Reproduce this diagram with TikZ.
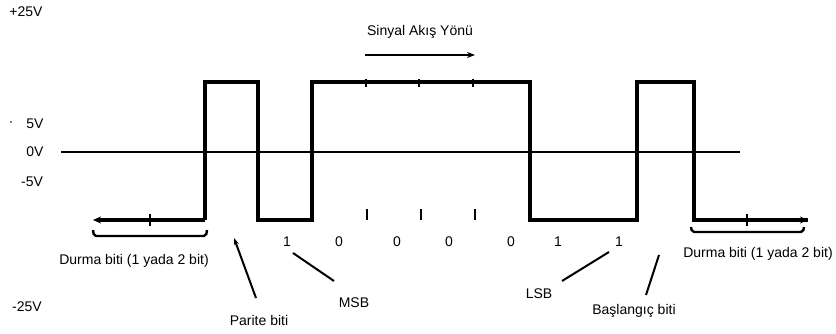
\documentclass[tikz,border=0pt]{standalone}
\usepackage{fontspec}
\setmainfont{Liberation Sans}
\usetikzlibrary{arrows.meta}
\begin{document}
\begin{tikzpicture}[x=1pt,y=-1pt,
  lbl/.style={font=\fontsize{14}{16}\selectfont,inner sep=0pt},
  wave/.style={line width=3.4pt,line join=miter},
  axis/.style={line width=2.2pt},
  ptr/.style={line width=2pt},
  brk/.style={line width=2.4pt,rounded corners=2pt},
  tck/.style={line width=1.6pt}]
\useasboundingbox (0,0) rectangle (836,334);
% voltage labels
\node[lbl] (v25) at (26,12) {+25V};
\node[lbl] (v5) at (35,124) {5V};
\node[lbl] (v0) at (35,152) {0V};
\node[lbl] (vm5) at (32,182) {-5V};
\node[lbl] (vm25) at (27,307) {-25V};
\fill (11,122) circle (0.8pt);
% axis
\coordinate (a0) at (61,152);
\coordinate (a1) at (740,152);
\draw[axis] (a0) -- (a1);
% waveform
\coordinate (w0) at (93,220);
\coordinate (w1) at (205,220);
\coordinate (w2) at (205,82);
\coordinate (w3) at (258,82);
\coordinate (w4) at (258,220);
\coordinate (w5) at (312,220);
\coordinate (w6) at (312,82);
\coordinate (w7) at (530,82);
\coordinate (w8) at (530,220);
\coordinate (w9) at (637,220);
\coordinate (w10) at (637,82);
\coordinate (w11) at (694,82);
\coordinate (w12) at (694,220);
\coordinate (w13) at (808,220);
\draw[wave,{Stealth[length=8pt,width=7pt]}-] (w0) -- (w1);
\draw[wave] (w1) -- (w2) -- (w3) -- (w4) -- (w5) -- (w6) -- (w7) -- (w8) -- (w9) -- (w10) -- (w11) -- (w12) -- (w13);
\draw[wave,-{Stealth[length=8pt,width=7pt]}] (w12) -- (w13);
% ticks on waveform
\foreach \x in {150,747} \draw[tck] (\x,214) -- (\x,226);
\foreach \x in {366,419,473} \draw[line width=1.2pt] (\x,79) -- (\x,87);
\foreach \x in {367,421,475} \draw[tck] (\x,209) -- (\x,220);
% signal direction
\node[lbl] (sig) at (420,32) {Sinyal Akış Yönü};
\coordinate (s0) at (365,55);
\coordinate (s1) at (475,55);
\draw[line width=2.6pt,-{Stealth[length=8pt,width=6pt]}] (s0) -- (s1);
% brackets
\draw[brk] (93,230) -- (94,236) -- (206,236) -- (207,230);
\draw[brk] (691,227) -- (692,232) -- (803,232) -- (804,227);
\node[lbl] (dl) at (134,261) {Durma biti (1 yada 2 bit)};
\node[lbl] (dr) at (758,254) {Durma biti (1 yada 2 bit)};
% bit values
\foreach \x/\b [count=\i] in {287/1,339/0,397/0,449/0,511/0,558/1,619/1}
  \node[lbl] (b\i) at (\x,242) {\b};
% pointer labels
\node[lbl] (par) at (259,320) {Parite biti};
\node[lbl] (msb) at (354,303) {MSB};
\node[lbl] (lsb) at (539,294) {LSB};
\node[lbl] (bas) at (634,311) {Başlangıç biti};
\coordinate (pp) at (234,238);
\coordinate (mp) at (293,253);
\coordinate (lp) at (609,252);
\coordinate (bp) at (659,255);
\draw[ptr,-{Stealth[length=7pt,width=5pt]}] (256,298) -- (pp);
\draw[ptr] (334,281) -- (mp);
\draw[ptr] (562,281) -- (lp);
\draw[ptr] (646,295) -- (bp);
\end{tikzpicture}
\end{document}
